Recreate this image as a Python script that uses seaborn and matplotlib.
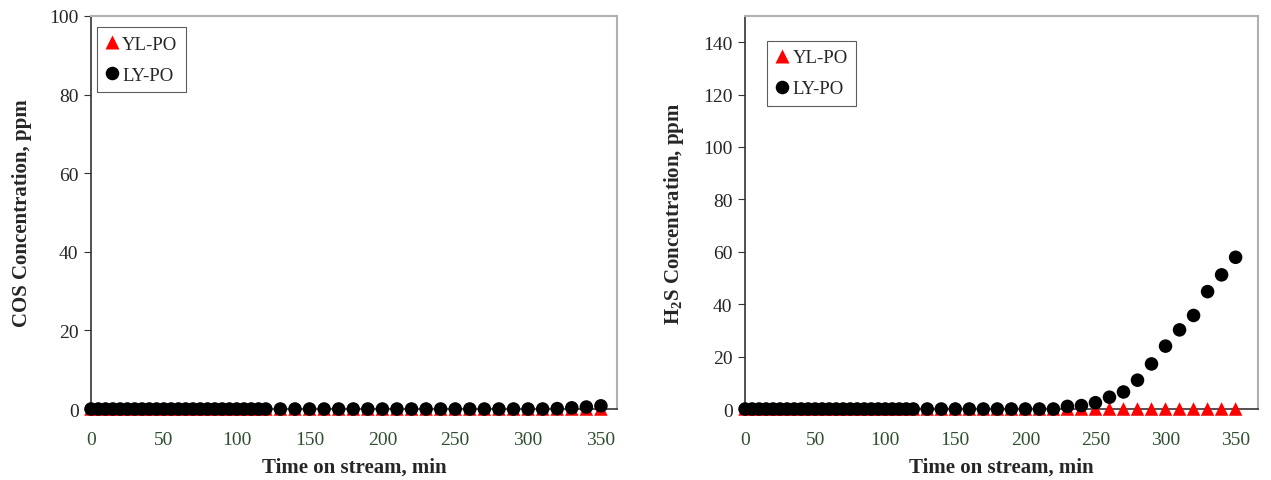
import numpy as np
import pandas as pd
import matplotlib
matplotlib.use("Agg")
import matplotlib.pyplot as plt
import seaborn as sns

sns.set_theme(style="white")
plt.rcParams['font.family'] = ['Liberation Serif', 'DejaVu Serif']
plt.rcParams['mathtext.fontset'] = 'custom'
plt.rcParams['mathtext.rm'] = 'Liberation Serif'
plt.rcParams['mathtext.bf'] = 'Liberation Serif:bold'

# time points: every 5 min up to 120, then every 10 min
time_min = list(range(0, 125, 5)) + list(range(130, 360, 10))

# COS concentration (ppm)
cos_yl = [0.0] * len(time_min)
cos_ly = [0.0] * 44 + [0.1, 0.3, 0.5, 0.8]

# H2S concentration (ppm)
h2s_yl = [0.0] * len(time_min)
h2s_ly = [0.0] * 35 + [1.0, 1.3, 2.4, 4.5, 6.5, 11.0, 17.2, 24.0,
                       30.2, 35.7, 44.8, 51.2, 57.9]

series_names = ["YL-PO", "LY-PO"]


def make_df(yl, ly):
    return pd.concat([
        pd.DataFrame({"t": time_min, "c": yl, "s": series_names[0]}),
        pd.DataFrame({"t": time_min, "c": ly, "s": series_names[1]}),
    ])


fig = plt.figure(figsize=(12.71, 4.81), dpi=100)
ax1 = fig.add_axes([0.0716, 0.1476, 0.4138, 0.8171])
ax2 = fig.add_axes([0.5862, 0.1476, 0.4036, 0.8171])

panels = [
    (ax1, make_df(cos_yl, cos_ly), 100, 361, "COS Concentration, ppm", (0.011, 0.972)),
    (ax2, make_df(h2s_yl, h2s_ly), 150, 366, r"H$_\mathbf{2}$S Concentration, ppm", (0.043, 0.937)),
]

for ax, df, ymax, xmax, ylab, legpos in panels:
    sns.scatterplot(data=df, x="t", y="c", hue="s", style="s",
                    palette={"YL-PO": "#ff0000", "LY-PO": "#000000"},
                    markers={"YL-PO": "^", "LY-PO": "o"},
                    s=95, edgecolor="none", ax=ax, clip_on=False, zorder=3)
    ax.set_xlim(0, xmax)
    ax.set_ylim(0, ymax)
    ax.set_xticks(np.arange(0, 351, 50))
    ax.set_yticks(np.arange(0, ymax + 1 if ymax == 100 else ymax, 20))
    ax.tick_params(axis="x", length=0, pad=16, labelsize=14, labelcolor="#2f4f2f")
    ax.tick_params(axis="y", length=5, width=0.8, direction="out", left=True,
                   labelsize=14, labelcolor="#262626", pad=4, color="#333333")
    for side in ["left", "bottom"]:
        ax.spines[side].set_color("#333333")
        ax.spines[side].set_linewidth(1.2)
    for side in ["top", "right"]:
        ax.spines[side].set_color("#b0b0b0")
        ax.spines[side].set_linewidth(1.5)
    ax.set_xlabel("Time on stream, min", fontsize=15, fontweight="bold", labelpad=6)
    ax.set_ylabel(ylab, fontsize=15, fontweight="bold", labelpad=12)
    leg = ax.legend(loc="upper left", bbox_to_anchor=legpos, frameon=True,
                    fancybox=False, edgecolor="#333333", fontsize=13.5,
                    handletextpad=0.2, borderpad=0.45, labelspacing=0.75,
                    handlelength=0.7, borderaxespad=0.0)
    leg.get_frame().set_linewidth(0.8)

fig.savefig("out.png", dpi=100)
